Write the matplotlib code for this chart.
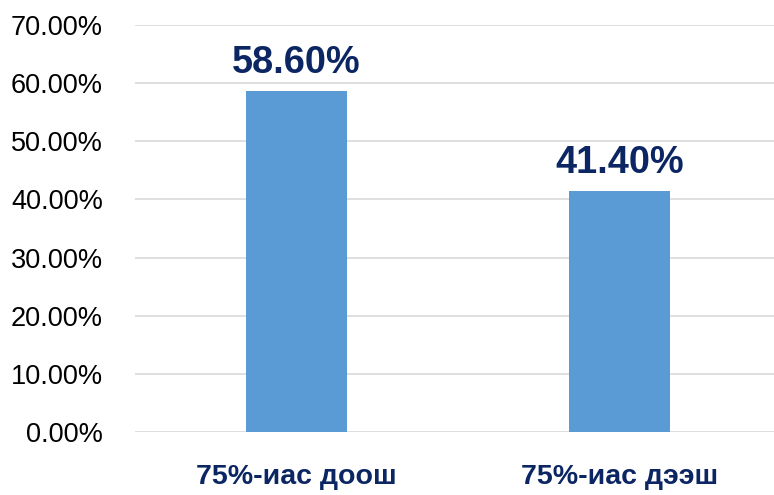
import matplotlib
matplotlib.use("Agg")
import matplotlib.pyplot as plt
from matplotlib.ticker import FuncFormatter

categories = ["75%-иас доош", "75%-иас дээш"]
values = [58.60, 41.40]
yticks = [0, 10, 20, 30, 40, 50, 60, 70]

plt.rcParams['font.family'] = ['Liberation Sans', 'DejaVu Sans']

fig = plt.figure(figsize=(7.74, 4.95), dpi=100)
ax = fig.add_axes([135/774, (495-432)/495, (774-135)/774, (432-25)/495])

x = list(range(len(categories)))
bars = ax.bar(x, values, width=0.31, color="#5B9BD5", zorder=3)

ax.set_xlim(-0.5, -0.5 + 639/323)
ax.set_ylim(0, 70)
ax.set_yticks(yticks)
ax.yaxis.set_major_formatter(FuncFormatter(lambda v, p: f"{v:.2f}%"))
ax.grid(axis="y", color="#D9D9D9", linewidth=1.2, zorder=0)
for s in ax.spines.values():
    s.set_visible(False)
ax.tick_params(axis="y", length=0, pad=23, labelsize=19.5, labelcolor="black")
ax.tick_params(axis="x", length=0, pad=23, labelsize=20.5, labelcolor="#0B2663")
ax.set_xticks(x)
ax.set_xticklabels(categories, fontweight="bold")

for xi, v in zip(x, values):
    ax.annotate(f"{v:.2f}%", (xi, v), xytext=(0, 13), textcoords="offset points",
                ha="center", va="baseline", fontsize=27.3, fontweight="bold", color="#0B2663")

fig.savefig("out.png", dpi=100)
